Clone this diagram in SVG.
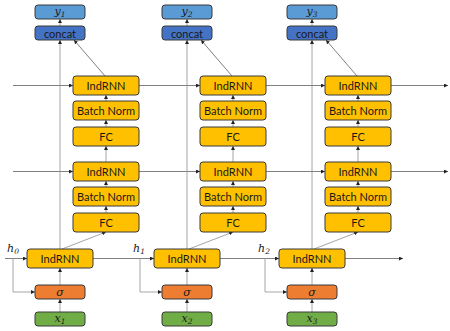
<svg xmlns="http://www.w3.org/2000/svg" width="450" height="331" viewBox="0 0 450 331">
<defs>
<marker id="ar" viewBox="0 0 6 6" refX="6" refY="3" markerWidth="4" markerHeight="4" orient="auto" markerUnits="userSpaceOnUse"><path d="M0,0 L6,3 L0,6 z" fill="#222"/></marker>
<style>
.box{stroke:#3a3a3a;stroke-width:1;}
.yel{fill:#FFC000;}
.org{fill:#ED7D31;}
.grn{fill:#70AD47;}
.cat{fill:#4472C4;}
.yb{fill:#5B9BD5;}
.t{font-family:Lato,"Open Sans",sans-serif;font-size:11px;fill:#1a1a1a;text-anchor:middle;dominant-baseline:central;}
.m{font-family:"DejaVu Serif","Liberation Serif",serif;font-style:italic;font-size:11px;fill:#1a1a1a;text-anchor:middle;}
.s{font-size:7.5px;}
.h{stroke:#808080;stroke-width:1;fill:none;marker-end:url(#ar);}
.v{stroke:#a6a6a6;stroke-width:1;fill:none;marker-end:url(#ar);}
.n{stroke:#a6a6a6;stroke-width:1;fill:none;}
</style>
</defs>
<rect width="450" height="331" fill="#fff"/>
<g id="connectors">
<!-- column 1 -->
<path class="v" d="M60,312V299"/><path class="v" d="M60,285V268"/><path class="v" d="M60,249V40"/><path class="v" d="M60,26V19"/>
<path class="v" d="M62,249L106,232"/><path class="v" d="M106,213V206"/><path class="v" d="M106,187V181"/><path class="v" d="M106,162V146"/><path class="v" d="M106,127V120"/><path class="v" d="M106,101V95"/><path class="h" d="M105,76L74,40"/>
<!-- column 2 -->
<path class="v" d="M187,312V299"/><path class="v" d="M187,285V268"/><path class="v" d="M187,249V40"/><path class="v" d="M187,26V19"/>
<path class="v" d="M189,249L233,232"/><path class="v" d="M233,213V206"/><path class="v" d="M233,187V181"/><path class="v" d="M233,162V146"/><path class="v" d="M233,127V120"/><path class="v" d="M233,101V95"/><path class="h" d="M232,76L201,40"/>
<!-- column 3 -->
<path class="v" d="M312,312V299"/><path class="v" d="M312,285V268"/><path class="v" d="M312,249V40"/><path class="v" d="M312,26V19"/>
<path class="v" d="M314,249L358,232"/><path class="v" d="M358,213V206"/><path class="v" d="M358,187V181"/><path class="v" d="M358,162V146"/><path class="v" d="M358,127V120"/><path class="v" d="M358,101V95"/><path class="h" d="M357,76L326,40"/>
<!-- rows -->
<path class="h" d="M13,85.5H73"/><path class="h" d="M139,85.5H200"/><path class="h" d="M266,85.5H325"/><path class="h" d="M391,85.5H448"/>
<path class="h" d="M13,171.5H73"/><path class="h" d="M139,171.5H200"/><path class="h" d="M266,171.5H325"/><path class="h" d="M391,171.5H448"/>
<path class="h" d="M5,258.5H27"/><path class="h" d="M93,258.5H154"/><path class="h" d="M220,258.5H279"/><path class="h" d="M345,258.5H403"/>
<path class="v" d="M13,258.5V292H35"/><path class="v" d="M140,258.5V292H162"/><path class="v" d="M265,258.5V292H287"/>
</g>
<g id="labels">
<text class="m" x="13" y="252">h<tspan class="s" dy="2">0</tspan></text>
<text class="m" x="139" y="252">h<tspan class="s" dy="2">1</tspan></text>
<text class="m" x="264" y="252">h<tspan class="s" dy="2">2</tspan></text>
</g>
<!-- column 1 nodes -->
<g id="y1"><rect class="box yb" x="35" y="5" width="50" height="14" rx="3"/><text class="m" x="60" y="15">y<tspan class="s" dy="2">1</tspan></text></g>
<g id="concat1"><rect class="box cat" x="35" y="26" width="50" height="14" rx="3"/><text class="t" x="60" y="33">concat</text></g>
<g id="indrnn1u"><rect class="box yel" x="73" y="76" width="66" height="19" rx="3"/><text class="t" x="106" y="85.5">IndRNN</text></g>
<g id="bn1u"><rect class="box yel" x="73" y="101" width="66" height="19" rx="3"/><text class="t" x="106" y="110.5">Batch Norm</text></g>
<g id="fc1u"><rect class="box yel" x="73" y="127" width="66" height="19" rx="3"/><text class="t" x="106" y="136.5">FC</text></g>
<g id="indrnn1m"><rect class="box yel" x="73" y="162" width="66" height="19" rx="3"/><text class="t" x="106" y="171.5">IndRNN</text></g>
<g id="bn1m"><rect class="box yel" x="73" y="187" width="66" height="19" rx="3"/><text class="t" x="106" y="196.5">Batch Norm</text></g>
<g id="fc1m"><rect class="box yel" x="73" y="213" width="66" height="19" rx="3"/><text class="t" x="106" y="222.5">FC</text></g>
<g id="indrnn1b"><rect class="box yel" x="27" y="249" width="66" height="19" rx="3"/><text class="t" x="60" y="258.5">IndRNN</text></g>
<g id="sigma1"><rect class="box org" x="35" y="285" width="50" height="14" rx="3"/><text class="m" x="60" y="295.5">σ</text></g>
<g id="x1"><rect class="box grn" x="35" y="312" width="50" height="14" rx="3"/><text class="m" x="60" y="322">x<tspan class="s" dy="2">1</tspan></text></g>
<!-- column 2 nodes -->
<g id="y2"><rect class="box yb" x="162" y="5" width="50" height="14" rx="3"/><text class="m" x="187" y="15">y<tspan class="s" dy="2">2</tspan></text></g>
<g id="concat2"><rect class="box cat" x="162" y="26" width="50" height="14" rx="3"/><text class="t" x="187" y="33">concat</text></g>
<g id="indrnn2u"><rect class="box yel" x="200" y="76" width="66" height="19" rx="3"/><text class="t" x="233" y="85.5">IndRNN</text></g>
<g id="bn2u"><rect class="box yel" x="200" y="101" width="66" height="19" rx="3"/><text class="t" x="233" y="110.5">Batch Norm</text></g>
<g id="fc2u"><rect class="box yel" x="200" y="127" width="66" height="19" rx="3"/><text class="t" x="233" y="136.5">FC</text></g>
<g id="indrnn2m"><rect class="box yel" x="200" y="162" width="66" height="19" rx="3"/><text class="t" x="233" y="171.5">IndRNN</text></g>
<g id="bn2m"><rect class="box yel" x="200" y="187" width="66" height="19" rx="3"/><text class="t" x="233" y="196.5">Batch Norm</text></g>
<g id="fc2m"><rect class="box yel" x="200" y="213" width="66" height="19" rx="3"/><text class="t" x="233" y="222.5">FC</text></g>
<g id="indrnn2b"><rect class="box yel" x="154" y="249" width="66" height="19" rx="3"/><text class="t" x="187" y="258.5">IndRNN</text></g>
<g id="sigma2"><rect class="box org" x="162" y="285" width="50" height="14" rx="3"/><text class="m" x="187" y="295.5">σ</text></g>
<g id="x2"><rect class="box grn" x="162" y="312" width="50" height="14" rx="3"/><text class="m" x="187" y="322">x<tspan class="s" dy="2">2</tspan></text></g>
<!-- column 3 nodes -->
<g id="y3"><rect class="box yb" x="287" y="5" width="50" height="14" rx="3"/><text class="m" x="312" y="15">y<tspan class="s" dy="2">3</tspan></text></g>
<g id="concat3"><rect class="box cat" x="287" y="26" width="50" height="14" rx="3"/><text class="t" x="312" y="33">concat</text></g>
<g id="indrnn3u"><rect class="box yel" x="325" y="76" width="66" height="19" rx="3"/><text class="t" x="358" y="85.5">IndRNN</text></g>
<g id="bn3u"><rect class="box yel" x="325" y="101" width="66" height="19" rx="3"/><text class="t" x="358" y="110.5">Batch Norm</text></g>
<g id="fc3u"><rect class="box yel" x="325" y="127" width="66" height="19" rx="3"/><text class="t" x="358" y="136.5">FC</text></g>
<g id="indrnn3m"><rect class="box yel" x="325" y="162" width="66" height="19" rx="3"/><text class="t" x="358" y="171.5">IndRNN</text></g>
<g id="bn3m"><rect class="box yel" x="325" y="187" width="66" height="19" rx="3"/><text class="t" x="358" y="196.5">Batch Norm</text></g>
<g id="fc3m"><rect class="box yel" x="325" y="213" width="66" height="19" rx="3"/><text class="t" x="358" y="222.5">FC</text></g>
<g id="indrnn3b"><rect class="box yel" x="279" y="249" width="66" height="19" rx="3"/><text class="t" x="312" y="258.5">IndRNN</text></g>
<g id="sigma3"><rect class="box org" x="287" y="285" width="50" height="14" rx="3"/><text class="m" x="312" y="295.5">σ</text></g>
<g id="x3"><rect class="box grn" x="287" y="312" width="50" height="14" rx="3"/><text class="m" x="312" y="322">x<tspan class="s" dy="2">3</tspan></text></g>
</svg>
